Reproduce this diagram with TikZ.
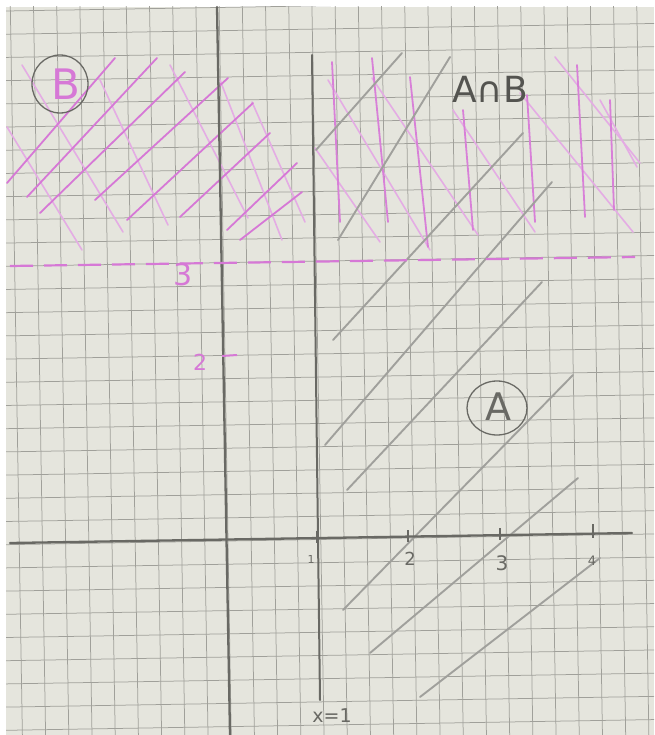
\documentclass[tikz,border=0pt]{standalone}
\usepackage{fontspec}
\setmainfont{DejaVu Sans}
\definecolor{paper}{RGB}{229,229,221}
\definecolor{gridc}{RGB}{160,160,154}
\definecolor{pencil}{RGB}{105,105,100}
\definecolor{hatchgrey}{RGB}{160,160,156}
\definecolor{pinkd}{RGB}{214,120,214}
\definecolor{pinkl}{RGB}{228,172,228}
\tikzset{
  gridline/.style={draw=gridc,line width=0.75pt},
  axisline/.style={draw=pencil,line width=2.3pt,line cap=round},
  hatchA/.style={draw=hatchgrey,line width=1.9pt,line cap=round},
  hatchBd/.style={draw=pinkd,line width=1.8pt,line cap=round},
  hatchBl/.style={draw=pinkl,line width=1.6pt,line cap=round},
  pinkdash/.style={draw=pinkd,line width=2.2pt,dash pattern=on 23pt off 11pt},
  tickmark/.style={draw=pencil,line width=1.4pt},
  lbl/.style={text=pencil,inner sep=0pt},
  pinklbl/.style={text=pinkd,inner sep=0pt},
  ring/.style={draw=pencil,line width=1.3pt}
}
\begin{document}
\begin{tikzpicture}[x=1pt,y=-1pt]
\useasboundingbox (0,0) rectangle (654,735);
\fill[white] (0,0) rectangle (654,735);
\fill[paper] (6,7) rectangle (654,735);
% grid
\begin{scope}
\clip (6,7) rectangle (654,735);
\begin{scope}[shift={(228,541)},rotate=0.95]
\foreach \i in {-12,...,20} \draw[gridline] (\i*23.2,-600) -- (\i*23.2,250);
\foreach \j in {-25,...,10} \draw[gridline] (-260,\j*23.2) -- (460,\j*23.2);
\end{scope}
% pink hatching B, left part, "\" light
\foreach \a/\b/\c/\d in {7/127/82/250, 22/65/123/232, 100/80/168/225, 170/65/248/218, 220/80/282/240, 252/102/305/222}
  \draw[hatchBl] (\a,\b) -- (\c,\d);
% pink hatching B, left part, "/" dark
\foreach \a/\b/\c/\d in {7/183/115/58, 27/197/157/58, 40/213/185/72, 95/200/228/78, 127/220/253/103, 180/217/270/133, 227/230/297/163, 240/240/302/192}
  \draw[hatchBd] (\a,\b) -- (\c,\d);
% pink hatching B, right part, "\" light
\foreach \a/\b/\c/\d in {315/148/380/242, 328/80/430/250, 372/78/478/235, 453/110/535/232, 520/93/633/232, 555/57/640/163, 600/100/637/167}
  \draw[hatchBl] (\a,\b) -- (\c,\d);
% pink hatching B, right part, near vertical
\foreach \a/\b/\c/\d in {332/62/340/222, 372/58/388/222, 410/77/428/247, 463/110/473/230, 527/95/535/222, 577/65/585/217, 610/100/614/210}
  \draw[hatchBd,draw=pinkd!85!pinkl] (\a,\b) -- (\c,\d);
% grey hatching A
\foreach \a/\b/\c/\d in {316/150/402/53, 338/240/450/57, 333/340/523/133, 325/445/552/182, 347/490/542/282, 343/610/573/375, 370/653/578/478, 420/697/600/558}
  \draw[hatchA] (\a,\b) -- (\c,\d);
\end{scope}
% axes
\coordinate (ytop) at (217,7);
\coordinate (ybot) at (230,735);
\coordinate (xl) at (10,543);
\coordinate (xr) at (632,533);
\draw[axisline] (ytop) -- (ybot);
\draw[axisline] (xl) -- (xr);
\coordinate (ltop) at (312,55);
\coordinate (lbot) at (320,700);
\draw[axisline,line width=2pt] (ltop) -- (lbot);
% dashed y=3
\coordinate (dl) at (10,266);
\coordinate (dr) at (635,257);
\draw[pinkdash] (dl) -- (dr);
% ticks on x axis
\draw[tickmark] (317,531) -- (317,543);
\draw[tickmark] (408,530) -- (408,542);
\draw[tickmark] (500,528) -- (500,540);
\draw[tickmark] (593,524) -- (593,538);
\node[lbl,font=\fontsize{11}{11}\selectfont] (t1) at (311,559) {1};
\node[lbl,font=\fontsize{18}{18}\selectfont] (t2) at (410,559) {2};
\node[lbl,font=\fontsize{20}{20}\selectfont] (t3) at (502,563) {3};
\node[lbl,font=\fontsize{13}{13}\selectfont] (t4) at (592,561) {4};
% tick on y axis
\draw[draw=pinkd,line width=2pt] (222,356) -- (237,355);
\node[pinklbl,font=\fontsize{22}{22}\selectfont] (y2) at (200,362) {2};
\node[pinklbl,font=\fontsize{30}{30}\selectfont] (y3) at (183,275) {3};
% labels
\node[lbl,font=\fontsize{19}{19}\selectfont] (xeq) at (332,716) {x=1};
\node[lbl,text=pencil!80!black,font=\fontsize{36}{36}\selectfont] (AB) at (490,89) {A∩B};
\draw[ring] (60,84) circle[x radius=28,y radius=29];
\node[pinklbl,font=\fontsize{42}{42}\selectfont] (Bl) at (66,84) {B};
\draw[ring] (497,408) circle[x radius=30,y radius=27];
\node[lbl,font=\fontsize{38}{38}\selectfont] (Al) at (498,407) {A};
\end{tikzpicture}
\end{document}
